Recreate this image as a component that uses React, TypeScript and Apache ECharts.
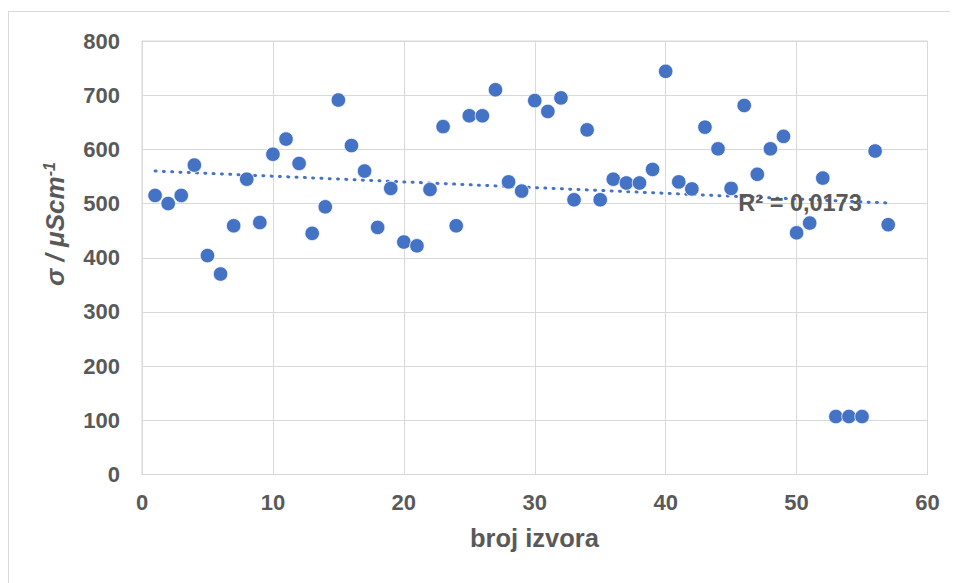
import React, { useEffect, useRef } from "react";
import * as echarts from "echarts";

const xValues: number[] = [
  1, 2, 3, 4, 5, 6, 7, 8, 9, 10, 11, 12, 13, 14, 15, 16, 17, 18, 19, 20,
  21, 22, 23, 24, 25, 26, 27, 28, 29, 30, 31, 32, 33, 34, 35, 36, 37, 38, 39, 40,
  41, 42, 43, 44, 45, 46, 47, 48, 49, 50, 51, 52, 53, 54, 55, 56, 57,
];
const sigmaValues: number[] = [
  515, 500, 515, 571, 404, 370, 459, 545, 465, 591, 619, 574, 445, 494, 691, 607, 560, 456, 528, 429,
  422, 526, 642, 459, 662, 662, 710, 540, 523, 690, 670, 695, 507, 636, 507, 545, 538, 538, 563, 744,
  540, 527, 641, 601, 528, 681, 554, 601, 624, 446, 464, 547, 107, 107, 107, 597, 461,
];
const trendX: number[] = [1, 57];
const trendY: number[] = [560, 501];
const xTitle = "broj izvora";
const yTitleMain = "σ / μScm";
const yTitleSup = "-1";
const r2Label = "R² = 0,0173";

const FONT = "'Liberation Sans', Arial, sans-serif";
const TEXT = "#595959";
const GRID = "#d9d9d9";
const BLUE = "#4472C4";

export default function App() {
  const ref = useRef<HTMLDivElement>(null);
  useEffect(() => {
    if (!ref.current) return;
    const chart = echarts.init(ref.current, undefined, { renderer: "svg" });
    const points = xValues.map((x, i) => [x, sigmaValues[i]]);
    const trend = trendX.map((x, i) => [x, trendY[i]]);
    chart.setOption({
      animation: false,
      grid: {
        left: 134,
        right: 30.5,
        top: 33,
        bottom: 108.5,
        show: true,
        borderColor: GRID,
        borderWidth: 1,
      },
      xAxis: {
        type: "value",
        min: 0,
        max: 60,
        interval: 10,
        axisLine: { show: true, lineStyle: { color: GRID } },
        axisTick: { show: false },
        splitLine: { show: true, lineStyle: { color: GRID, width: 1 } },
        axisLabel: { color: TEXT, fontSize: 22, fontWeight: "bold", fontFamily: FONT, margin: 17 },
      },
      yAxis: {
        type: "value",
        min: 0,
        max: 800,
        interval: 100,
        axisLine: { show: true, lineStyle: { color: GRID } },
        axisTick: { show: false },
        splitLine: { show: true, lineStyle: { color: GRID, width: 1 } },
        axisLabel: { color: TEXT, fontSize: 22, fontWeight: "bold", fontFamily: FONT, margin: 22 },
      },
      series: [
        {
          type: "line",
          data: trend,
          symbol: "none",
          silent: true,
          z: 1,
          lineStyle: { color: BLUE, width: 3, type: [1, 7.3], cap: "round" },
        },
        {
          type: "scatter",
          data: points,
          symbol: "circle",
          symbolSize: 14.5,
          z: 2,
          itemStyle: { color: BLUE, borderColor: "#ffffff", borderWidth: 0.75, opacity: 1 },
        },
      ],
      graphic: [
        {
          type: "rect",
          shape: { x: 0.5, y: 3.5, width: 2000, height: 2000 },
          style: { fill: "none", stroke: GRID, lineWidth: 1 },
          silent: true,
          z: -10,
        },
        {
          type: "text",
          x: 526.5,
          y: 530,
          style: {
            text: xTitle,
            fill: TEXT,
            font: `bold 25.5px ${FONT}`,
            textAlign: "center",
            textVerticalAlign: "middle",
          },
        },
        {
          type: "text",
          x: 47,
          y: 216,
          rotation: Math.PI / 2,
          style: {
            text: `{a|${yTitleMain}}{b|${yTitleSup}}`,
            textAlign: "center",
            textVerticalAlign: "middle",
            rich: {
              a: { fill: TEXT, font: `italic bold 26px ${FONT}` },
              b: { fill: TEXT, font: `italic bold 16px ${FONT}`, verticalAlign: "top", padding: [0, 0, 11, 0] },
            },
          },
        },
        {
          type: "text",
          x: 730.3,
          y: 195,
          z: 100,
          style: {
            text: r2Label,
            fill: TEXT,
            font: `bold 23.5px ${FONT}`,
            textAlign: "left",
            textVerticalAlign: "middle",
          },
        },
      ],
    });
    return () => chart.dispose();
  }, []);
  return <div ref={ref} style={{ width: 950, height: 575 }} />;
}
